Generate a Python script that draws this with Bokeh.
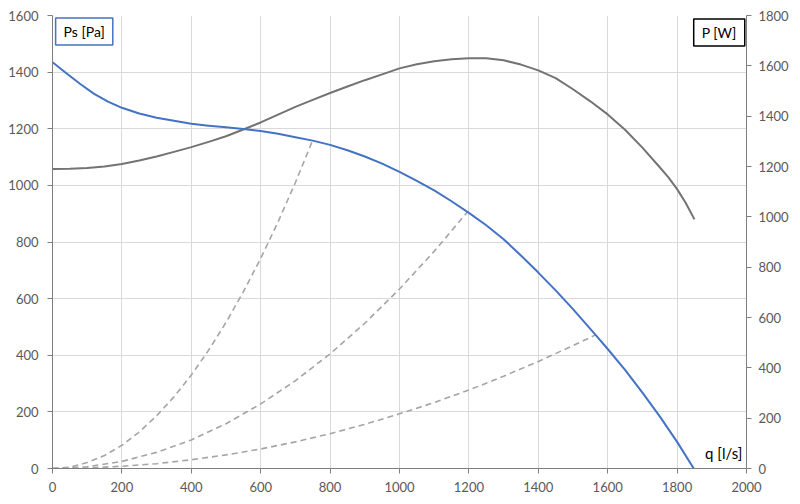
from bokeh.plotting import figure
from bokeh.models import Range1d, LinearAxis, Label, SingleIntervalTicker
from bokeh.embed import file_html
from bokeh.resources import INLINE

# Static pressure curve Ps [Pa] vs airflow q [l/s]
q_ps = [0, 40, 80, 120, 160, 200, 250, 300, 350, 400, 450, 500, 550, 600,
        650, 700, 750, 800, 850, 900, 950, 1000, 1050, 1100, 1150, 1200,
        1250, 1300, 1350, 1400, 1450, 1500, 1565, 1600, 1650, 1700, 1750,
        1800, 1848]
ps = [1435, 1396, 1358, 1323, 1296, 1274, 1254, 1239, 1228, 1218, 1211,
      1205, 1199, 1192, 1182, 1170, 1158, 1143, 1124, 1102, 1077, 1048,
      1016, 982, 944, 903, 859, 810, 752, 692, 629, 563, 472, 422, 348, 268,
      184, 94, 0]

# Power curve P [W] (right axis)
q_pw = [0, 50, 100, 150, 200, 250, 300, 350, 400, 450, 500, 550, 600, 650,
        700, 750, 800, 850, 900, 950, 1000, 1050, 1100, 1150, 1200, 1250,
        1300, 1350, 1400, 1450, 1500, 1550, 1600, 1650, 1700, 1750, 1775,
        1800, 1825, 1850]
pw = [1190, 1191, 1194, 1200, 1210, 1224, 1240, 1258, 1277, 1298, 1320, 1347,
      1375, 1406, 1437, 1465, 1492, 1518, 1543, 1566, 1590, 1606, 1618, 1626,
      1630, 1630, 1622, 1605, 1582, 1551, 1507, 1459, 1407, 1346, 1275, 1197,
      1157, 1110, 1055, 990]

# System curves (dashed)
q_sys1 = [0, 50, 100, 150, 200, 250, 300, 350, 400, 450, 500, 550, 600, 650,
          700, 750]
ps_sys1 = [0, 5, 21, 46, 82, 129, 186, 253, 330, 418, 516, 624, 742, 871,
           1010, 1160]
q_sys2 = [0, 100, 200, 300, 400, 500, 600, 700, 800, 900, 1000, 1100, 1195]
ps_sys2 = [0, 6, 25, 57, 101, 158, 228, 310, 405, 513, 634, 767, 905]
q_sys3 = [0, 100, 200, 300, 400, 500, 600, 700, 800, 900, 1000, 1100, 1200,
          1300, 1400, 1500, 1565]
ps_sys3 = [0, 2, 8, 17, 31, 48, 69, 94, 123, 156, 193, 233, 277, 326, 378,
           434, 472]

FONT = "Lato"
TICK_COLOR = "#595959"
AXIS_COLOR = "#7f7f7f"

p = figure(width=800, height=504, output_backend="svg", toolbar_location=None,
           x_range=Range1d(0, 2000), y_range=Range1d(0, 1600),
           min_border_left=52, min_border_right=54, min_border_top=15,
           min_border_bottom=36)
p.extra_y_ranges = {"pw": Range1d(0, 1800)}
p.outline_line_color = None
p.background_fill_color = "white"

for ax in [p.xaxis[0], p.yaxis[0]]:
    ax.ticker = SingleIntervalTicker(interval=200, num_minor_ticks=0)
p.xgrid.ticker = SingleIntervalTicker(interval=200, num_minor_ticks=0)
p.ygrid.ticker = SingleIntervalTicker(interval=200, num_minor_ticks=0)
p.grid.grid_line_color = "#d9d9d9"
p.grid.grid_line_width = 1

right = LinearAxis(y_range_name="pw",
                   ticker=SingleIntervalTicker(interval=200, num_minor_ticks=0))
p.add_layout(right, "right")

for ax in p.axis:
    ax.axis_line_color = AXIS_COLOR
    ax.axis_line_width = 1
    ax.major_tick_line_color = AXIS_COLOR
    ax.major_tick_in = 0
    ax.major_tick_out = 5
    ax.minor_tick_line_color = None
    ax.major_label_text_font = FONT
    ax.major_label_text_font_size = "13px"
    ax.major_label_text_color = TICK_COLOR
p.yaxis[0].major_label_standoff = 9
right.major_label_standoff = 7
p.xaxis[0].major_label_standoff = 8

dash_color = "#a5a5a5"
for qs, vs in [(q_sys1, ps_sys1), (q_sys2, ps_sys2), (q_sys3, ps_sys3)]:
    p.line(qs, vs, line_color=dash_color, line_width=1.6, line_dash="6 4")

p.line(q_pw, pw, y_range_name="pw", line_color="#737373", line_width=2,
       line_join="round")
p.line(q_ps, ps, line_color="#4472c4", line_width=2, line_join="round")

p.add_layout(Label(x=9, y=1591, text="Ps [Pa]", anchor="top_left",
                   text_font=FONT, text_font_size="14px", text_color="black",
                   border_line_color="#4472c4", border_line_width=1.5,
                   background_fill_color="white", padding=(8, 5)))
p.add_layout(Label(x=1995, y=1588, text="P [W]", anchor="top_right",
                   text_font=FONT, text_font_size="14px", text_color="black",
                   border_line_color="black", border_line_width=1.5,
                   background_fill_color="white", padding=(8, 5)))
p.add_layout(Label(x=1988, y=22, text="q [l/s]", text_align="right",
                   text_baseline="bottom", text_font=FONT,
                   text_font_size="15px", text_color="black"))

open("out.html", "w").write(file_html(p, INLINE))
